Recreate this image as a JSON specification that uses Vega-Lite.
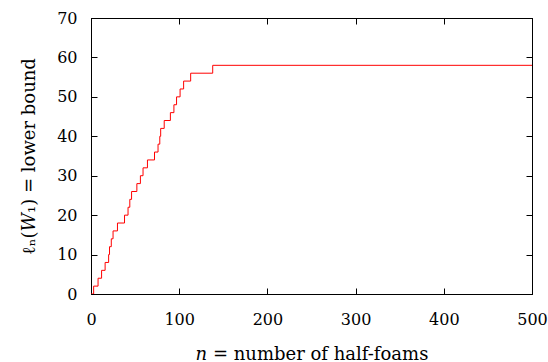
{
  "$schema": "https://vega.github.io/schema/vega-lite/v6.json",
  "width": 441,
  "height": 276,
  "autosize": "none",
  "padding": {"left": 91, "top": 18, "right": 16, "bottom": 68},
  "background": "white",
  "config": {
    "view": {"stroke": "black", "strokeWidth": 1},
    "axis": {
      "labelFont": "DejaVu Serif",
      "titleFont": "DejaVu Serif",
      "labelFontSize": 16,
      "titleFontSize": 18,
      "labelColor": "black",
      "titleColor": "black",
      "titleFontWeight": "normal",
      "grid": false,
      "domainColor": "black",
      "tickColor": "black",
      "tickSize": -6,
      "tickWidth": 1,
      "labelFlush": false
    }
  },
  "data": {
    "values": [
      {"n": 0, "l": 0}, {"n": 3, "l": 2}, {"n": 8, "l": 4}, {"n": 12, "l": 6},
      {"n": 16, "l": 8}, {"n": 20, "l": 10}, {"n": 21, "l": 12}, {"n": 23, "l": 14},
      {"n": 25, "l": 16}, {"n": 30, "l": 18}, {"n": 38, "l": 20}, {"n": 42, "l": 22},
      {"n": 44, "l": 24}, {"n": 46, "l": 26}, {"n": 52, "l": 28}, {"n": 56, "l": 30},
      {"n": 59, "l": 32}, {"n": 64, "l": 34}, {"n": 72, "l": 36}, {"n": 76, "l": 38},
      {"n": 78, "l": 40}, {"n": 79, "l": 42}, {"n": 83, "l": 44}, {"n": 90, "l": 46},
      {"n": 94, "l": 48}, {"n": 97, "l": 50}, {"n": 101, "l": 52}, {"n": 105, "l": 54},
      {"n": 113, "l": 56}, {"n": 138, "l": 58}, {"n": 500, "l": 58}
    ]
  },
  "layer": [
    {
      "mark": {"type": "line", "interpolate": "step-after", "color": "#ff0000", "strokeWidth": 1, "clip": true},
      "encoding": {
        "x": {"field": "n", "type": "quantitative", "scale": {"domain": [0, 500], "nice": false},
          "axis": {"values": [0, 100, 200, 300, 400, 500], "title": "𝑛 = number of half-foams", "labelPadding": 23, "titlePadding": 18}},
        "y": {"field": "l", "type": "quantitative", "scale": {"domain": [0, 70], "nice": false},
          "axis": {"values": [0, 10, 20, 30, 40, 50, 60, 70], "title": "ℓₙ(𝑊₁) = lower bound", "labelPadding": 20, "titlePadding": 18}}
      }
    },
    {
      "mark": {"type": "line", "opacity": 0},
      "encoding": {
        "x": {"field": "n", "type": "quantitative", "scale": {"domain": [0, 500], "nice": false},
          "axis": {"values": [0, 100, 200, 300, 400, 500], "labels": false, "title": null}},
        "y": {"field": "l", "type": "quantitative", "scale": {"domain": [0, 70], "nice": false},
          "axis": {"values": [0, 10, 20, 30, 40, 50, 60, 70], "labels": false, "title": null}}
      }
    }
  ],
  "resolve": {"axis": {"x": "independent", "y": "independent"}}
}
